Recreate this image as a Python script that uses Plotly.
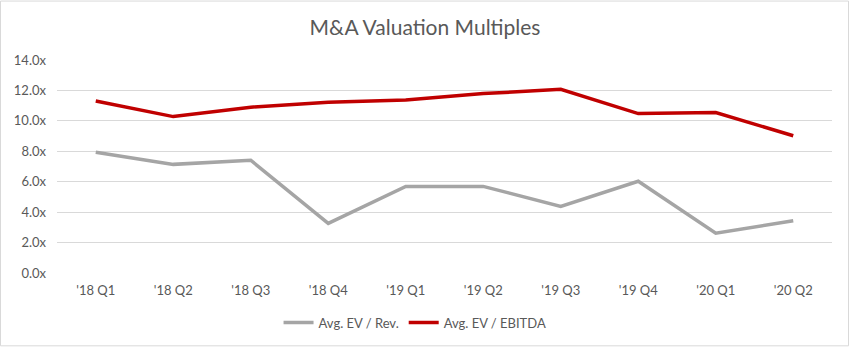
import plotly.graph_objects as go

quarters = ["'18 Q1", "'18 Q2", "'18 Q3", "'18 Q4", "'19 Q1", "'19 Q2", "'19 Q3", "'19 Q4", "'20 Q1", "'20 Q2"]
ev_rev = [7.93, 7.14, 7.41, 3.26, 5.69, 5.69, 4.38, 6.03, 2.62, 3.43]
ev_ebitda = [11.31, 10.28, 10.90, 11.22, 11.37, 11.79, 12.07, 10.48, 10.55, 9.02]
y_ticks = [0, 2, 4, 6, 8, 10, 12, 14]

W, H = 850, 350
L, R, T, B = 57, 18, 60, 75
pw, ph = W - L - R, H - T - B

font = "Lato, Open Sans, sans-serif"
txt = "#595959"

fig = go.Figure()
fig.add_trace(go.Scatter(x=quarters, y=ev_rev, mode="lines", name="Avg. EV / Rev.",
                         line=dict(color="#a5a5a5", width=3.5)))
fig.add_trace(go.Scatter(x=quarters, y=ev_ebitda, mode="lines", name="Avg. EV / EBITDA",
                         line=dict(color="#c00000", width=3.5)))

fig.update_layout(
    width=W, height=H,
    margin=dict(l=L, r=R, t=T, b=B),
    paper_bgcolor="white", plot_bgcolor="white",
    font=dict(family=font, size=13, color=txt),
    title=dict(text="M&A Valuation Multiples", x=0.5, xanchor="center", y=1 - 28 / H, yanchor="middle",
               font=dict(family=font, size=21, color=txt)),
    showlegend=True,
    legend=dict(orientation="h", x=0.462, xanchor="center", y=(0 - 50) / ph, yanchor="middle",
                font=dict(size=13, color=txt), itemwidth=30),
    xaxis=dict(type="category", range=[-0.5, len(quarters) - 0.5], showgrid=False, zeroline=False,
               showline=False, ticks="", ticklabelstandoff=8, tickfont=dict(size=13, color=txt)),
    yaxis=dict(range=[0, 14], tickvals=y_ticks, ticktext=[f"{v:.1f}x" for v in y_ticks],
               showgrid=True, gridcolor="#d9d9d9", gridwidth=1, zeroline=False, showline=False,
               ticks="", ticklabelstandoff=10, tickfont=dict(size=13, color=txt)),
    shapes=[dict(type="rect", xref="paper", yref="paper",
                 x0=-(L - 0.5) / pw, x1=1 + (R - 1.5) / pw,
                 y0=-(B - 1.5) / ph, y1=1 + (T - 0.5) / ph,
                 line=dict(color="#d9d9d9", width=1), layer="below")],
)

fig.write_html("out.html")
